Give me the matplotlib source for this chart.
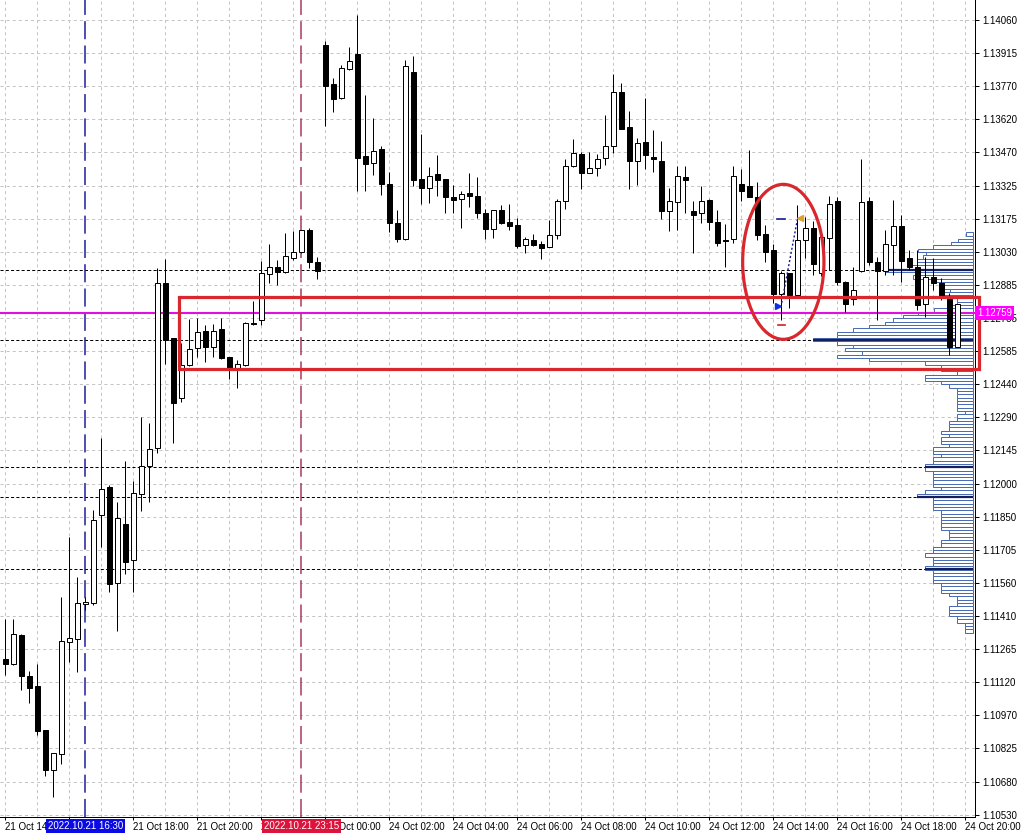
import numpy as np
import matplotlib
matplotlib.use("Agg")
import matplotlib.pyplot as plt
from matplotlib.patches import Rectangle, Ellipse
from matplotlib.transforms import blended_transform_factory, Affine2D

# ---------------- data ----------------
opens = [1.11222, 1.11201, 1.11328, 1.11146, 1.11102, 1.10906, 1.10729, 1.10798, 1.11296, 1.11309,
         1.11465, 1.11469, 1.11860, 1.11986, 1.11558, 1.11821, 1.11661, 1.11953, 1.12078, 1.12160,
         1.12891, 1.12646, 1.12380, 1.12529, 1.12602, 1.12679, 1.12606, 1.12686, 1.12562, 1.12513,
         1.12526, 1.12714, 1.12728, 1.12932, 1.12964, 1.12942, 1.13004, 1.13028, 1.13127, 1.12984,
         1.13949, 1.13775, 1.13712, 1.13843, 1.13909, 1.13456, 1.13424, 1.13487, 1.13332, 1.13157,
         1.13087, 1.13829, 1.13353, 1.13315, 1.13376, 1.13354, 1.13274, 1.13264, 1.13293, 1.13278,
         1.13204, 1.13133, 1.13216, 1.13163, 1.13148, 1.13059, 1.13083, 1.13064, 1.13053, 1.13104,
         1.13257, 1.13410, 1.13465, 1.13382, 1.13401, 1.13446, 1.13502, 1.13740, 1.13585, 1.13435,
         1.13518, 1.13450, 1.13434, 1.13213, 1.13253, 1.13361, 1.13212, 1.13202, 1.13259, 1.13164,
         1.13083, 1.13086, 1.13332, 1.13324, 1.13275, 1.13110, 1.13038, 1.12842, 1.12935, 1.12839,
         1.13083, 1.13135, 1.12936, 1.13093, 1.13256, 1.12898, 1.12820, 1.12945, 1.13256, 1.12984,
         1.12945, 1.13059, 1.13145, 1.13002, 1.12964, 1.12797, 1.12920, 1.12891, 1.12820, 1.12609]
highs = [1.11399, 1.11399, 1.11333, 1.11168, 1.11199, 1.10906, 1.10803, 1.11496, 1.11764, 1.11585,
         1.11497, 1.11884, 1.12202, 1.11995, 1.11918, 1.12101, 1.12014, 1.12295, 1.12269, 1.12957,
         1.12997, 1.12647, 1.12627, 1.12731, 1.12735, 1.12705, 1.12710, 1.12735, 1.12563, 1.12550,
         1.12719, 1.12812, 1.12990, 1.13064, 1.12994, 1.13115, 1.13123, 1.13127, 1.13135, 1.13006,
         1.13967, 1.13801, 1.13860, 1.13942, 1.14082, 1.13727, 1.13624, 1.13502, 1.13384, 1.13216,
         1.13883, 1.13900, 1.13554, 1.13409, 1.13461, 1.13354, 1.13327, 1.13301, 1.13382, 1.13364,
         1.13219, 1.13216, 1.13238, 1.13243, 1.13179, 1.13095, 1.13108, 1.13078, 1.13172, 1.13264,
         1.13441, 1.13532, 1.13475, 1.13473, 1.13465, 1.13638, 1.13820, 1.13782, 1.13656, 1.13537,
         1.13712, 1.13572, 1.13523, 1.13313, 1.13412, 1.13413, 1.13256, 1.13323, 1.13264, 1.13216,
         1.13154, 1.13412, 1.13398, 1.13483, 1.13342, 1.13150, 1.13064, 1.12945, 1.12936, 1.13238,
         1.13186, 1.13167, 1.13101, 1.13278, 1.13273, 1.12900, 1.12963, 1.13443, 1.13275, 1.13009,
         1.13127, 1.13261, 1.13194, 1.13038, 1.13038, 1.13009, 1.13002, 1.12914, 1.12846, 1.12799]
lows = [1.11150, 1.11195, 1.11084, 1.11028, 1.10884, 1.10702, 1.10610, 1.10755, 1.11210, 1.11165,
        1.11439, 1.11462, 1.11719, 1.11519, 1.11347, 1.11598, 1.11521, 1.11880, 1.11920, 1.12138,
        1.12531, 1.12180, 1.12365, 1.12523, 1.12565, 1.12542, 1.12565, 1.12553, 1.12464, 1.12424,
        1.12524, 1.12704, 1.12705, 1.12891, 1.12883, 1.12938, 1.12994, 1.13025, 1.12957, 1.12908,
        1.13589, 1.13653, 1.13709, 1.13838, 1.13302, 1.13301, 1.13372, 1.13283, 1.13120, 1.13073,
        1.13085, 1.13324, 1.13242, 1.13246, 1.13278, 1.13202, 1.13202, 1.13138, 1.13228, 1.13182,
        1.13089, 1.13093, 1.13154, 1.13127, 1.13046, 1.13024, 1.13058, 1.12997, 1.13052, 1.13086,
        1.13221, 1.13409, 1.13309, 1.13379, 1.13369, 1.13416, 1.13471, 1.13575, 1.13311, 1.13327,
        1.13397, 1.13385, 1.13176, 1.13124, 1.13127, 1.13202, 1.13024, 1.13157, 1.13127, 1.13058,
        1.12964, 1.13068, 1.13256, 1.13274, 1.13083, 1.12987, 1.12802, 1.12728, 1.12780, 1.12837,
        1.13002, 1.12927, 1.12923, 1.12950, 1.12883, 1.12764, 1.12794, 1.12943, 1.12972, 1.12728,
        1.12927, 1.12927, 1.12898, 1.12950, 1.12772, 1.12742, 1.12861, 1.12816, 1.12572, 1.12607]
closes = [1.11199, 1.11331, 1.11147, 1.11094, 1.10903, 1.10729, 1.10803, 1.11302, 1.11314, 1.11469,
          1.11473, 1.11839, 1.11975, 1.11553, 1.11848, 1.11654, 1.11958, 1.12078, 1.12153, 1.12891,
          1.12639, 1.12358, 1.12526, 1.12597, 1.12673, 1.12609, 1.12679, 1.12559, 1.12513, 1.12531,
          1.12713, 1.12712, 1.12935, 1.12964, 1.12942, 1.13012, 1.13028, 1.13127, 1.12984, 1.12944,
          1.13768, 1.13711, 1.13846, 1.13878, 1.13449, 1.13422, 1.13480, 1.13333, 1.13160, 1.13089,
          1.13855, 1.13349, 1.13315, 1.13367, 1.13349, 1.13275, 1.13259, 1.13287, 1.13280, 1.13202,
          1.13130, 1.13215, 1.13160, 1.13145, 1.13058, 1.13086, 1.13062, 1.13049, 1.13104, 1.13255,
          1.13412, 1.13468, 1.13382, 1.13403, 1.13441, 1.13500, 1.13740, 1.13577, 1.13435, 1.13512,
          1.13461, 1.13444, 1.13213, 1.13255, 1.13367, 1.13351, 1.13195, 1.13255, 1.13164, 1.13071,
          1.13077, 1.13367, 1.13302, 1.13275, 1.13105, 1.13031, 1.12842, 1.12935, 1.12839, 1.13083,
          1.13135, 1.12975, 1.13096, 1.13243, 1.12898, 1.12797, 1.12861, 1.13250, 1.12987, 1.12945,
          1.13064, 1.13145, 1.12991, 1.12962, 1.12794, 1.12920, 1.12893, 1.12831, 1.12609, 1.12799]

time_labels = ["21 Oct 14:00", "21 Oct 16:00", "21 Oct 18:00", "21 Oct 20:00", "21 Oct 22:00",
               "24 Oct 00:00", "24 Oct 02:00", "24 Oct 04:00", "24 Oct 06:00", "24 Oct 08:00",
               "24 Oct 10:00", "24 Oct 12:00", "24 Oct 14:00", "24 Oct 16:00", "24 Oct 18:00",
               "24 Oct 20:00"]
price_labels = ["1.10530", "1.10680", "1.10825", "1.10970", "1.11120", "1.11265", "1.11410",
                "1.11560", "1.11705", "1.11850", "1.12000", "1.12145", "1.12290", "1.12440",
                "1.12585", "1.12735", "1.12885", "1.13030", "1.13175", "1.13325", "1.13470",
                "1.13620", "1.13770", "1.13915", "1.14060"]

# volume profile (bins from the top level downwards) and its high-volume nodes
profile_top = 1.13110
profile_step = 0.000147
profile_volume = [7, 0, 15, 22, 40, 55, 47, 50, 56, 48, 64, 88, 56, 60, 40, 32, 32, 23, 32, 22,
                  16, 16, 23, 39, 55, 70, 80, 88, 104, 120, 136, 136, 160, 136, 120, 128, 111, 136, 104, 48,
                  32, 32, 16, 48, 48, 32, 24, 16, 16, 16, 16, 16, 16, 16, 8, 16, 16, 24, 24, 24,
                  32, 24, 32, 32, 24, 40, 40, 32, 40, 40, 48, 48, 40, 40, 40, 40, 40, 32, 48, 56,
                  40, 40, 40, 40, 32, 32, 32, 32, 32, 32, 24, 24, 24, 32, 32, 40, 40, 48, 40, 40,
                  40, 48, 40, 40, 40, 40, 32, 32, 32, 24, 16, 16, 16, 24, 24, 24, 16, 16, 8, 8, 8]
node_prices = [1.12948, 1.12639, 1.12076, 1.11940, 1.11620]
node_volume = [88, 160, 48, 56, 48]

current_price = 1.12759
zone_low, zone_high = 1.12510, 1.12828
zone_start = 21.75
buy_index, sell_index = 10, 37
buy_label, sell_label = "2022.10.21 16:30", "2022.10.21 23:15"

# ---------------- figure ----------------
plt.rcParams['font.family'] = ['Liberation Sans', 'DejaVu Sans']
plt.rcParams['lines.scale_dashes'] = False
W, H = 1021, 839
AX_R, AX_B = 975, 817
PX = 0.72
fig = plt.figure(figsize=(W / 100, H / 100), dpi=100)
ax = fig.add_axes([0, (H - AX_B) / H, AX_R / W, AX_B / H])

n = len(opens)
x = np.arange(n)
o = np.array(opens); h = np.array(highs); l = np.array(lows); c = np.array(closes)

ax.set_xlim(-5.3 / 8, (AX_R - 5.3) / 8)
ax.set_ylim(1.105198, 1.141491)
ax.set_autoscale_on(False)

# grid
ax.set_xticks(np.arange(0, 121, 8))
ax.set_xticklabels(time_labels, ha='left')
ax.set_xticks(np.arange(0, 122, 4), minor=True)
yt = np.linspace(1.10530, 1.14060, len(price_labels))
ax.set_yticks(yt)
ax.set_yticklabels(price_labels)
ax.yaxis.tick_right()
ax.grid(True, which='both', axis='x', color='#c4c4c4', lw=PX, dashes=(2.2, 2.2))
ax.grid(True, which='major', axis='y', color='#c4c4c4', lw=PX, dashes=(2.2, 2.2))
ax.set_axisbelow(True)
ax.tick_params(axis='x', which='major', length=3 * PX, width=PX, pad=1.2, labelsize=7)
ax.tick_params(axis='x', which='minor', length=0)
ax.tick_params(axis='y', which='major', length=4 * PX, width=PX, pad=2.5, labelsize=7)
for s in ['left', 'top']:
    ax.spines[s].set_visible(False)
for s in ['right', 'bottom']:
    ax.spines[s].set_linewidth(PX)

# profile transform: volume units = pixels leftwards from the right edge
prof_x = Affine2D().scale(-1.0 / AX_R, 1).translate(973.0 / AX_R, 0) + ax.transAxes
prof_tr = blended_transform_factory(prof_x, ax.transData)
ytr = ax.get_yaxis_transform()

# level lines from high-volume nodes
for p, v in zip(node_prices, node_volume):
    left_frac = (973.0 - v) / AX_R
    ax.plot([0, left_frac], [p, p], transform=ytr, color='black', lw=PX, dashes=(2.2, 1.6), zorder=1.5)

# vertical time markers
ax.axvline(buy_index, color='#1e1e9a', lw=1.1, dashes=(13, 4.5), zorder=1.6)
ax.axvline(sell_index, color='#a83a5c', lw=1.1, dashes=(13, 4.5), zorder=1.6)

# volume profile
levels = profile_top - profile_step * np.arange(len(profile_volume))
ax.barh(levels, profile_volume, height=profile_step, left=0, transform=prof_tr,
        facecolor='white', edgecolor='#4a6cb4', linewidth=PX, zorder=2)
for p, v in zip(node_prices, node_volume):
    ax.plot([v, 0], [p, p], transform=prof_tr, color='#14205e', lw=1.6, zorder=2.2,
            solid_capstyle='butt')

# current price line
ax.axhline(current_price, color='#e010e0', lw=1.5, zorder=2.5)

# candles
ax.vlines(x, l, h, color='black', lw=PX, zorder=3)
up = c >= o
ax.bar(x, np.abs(c - o), width=0.55, bottom=np.minimum(o, c),
       color=np.where(up, 'white', 'black'), edgecolor='black', linewidth=PX, zorder=4)

# trade markers inside the ellipse
ax.plot([97.05, 99.0], [1.12803, 1.13172], color='#1a1a90', lw=1.0, dashes=(1.5, 1.5), zorder=5)
ax.plot([96.6], [1.12791], marker='>', color='#1030e0', ms=5, zorder=5)
ax.plot([99.35], [1.13181], marker='<', color='#e0a030', ms=5, zorder=5)
ax.plot([96.5, 97.5], [1.13175, 1.13175], color='#1a1a90', lw=1.2, zorder=5)
ax.plot([96.6, 97.5], [1.12705, 1.12705], color='#d02020', lw=1.2, zorder=5)

# zone rectangle and ellipse
red = '#d8282e'
ax.add_patch(Rectangle((zone_start, zone_low), 121.7 - zone_start, zone_high - zone_low,
                       fill=False, ec=red, lw=2.3, clip_on=False, zorder=6))
ax.add_patch(Ellipse((97.25, 1.12986), 10.16, 0.006885, fill=False, ec=red, lw=2.3, zorder=6))

# labels on axes
ax.text(1.0025, current_price, f"{current_price:.5f}", transform=ytr, ha='left', va='center',
        fontsize=7, color='white', zorder=10, clip_on=False,
        bbox=dict(boxstyle='square,pad=0.2', fc='#ff00ff', ec='none'))
xtr = blended_transform_factory(ax.transData, ax.transAxes)
ax.text(buy_index, -0.011, buy_label, transform=xtr, ha='center', va='center', fontsize=7,
        color='white', zorder=10, clip_on=False,
        bbox=dict(boxstyle='square,pad=0.2', fc='#0a0ae6', ec='none'))
ax.text(sell_index, -0.011, sell_label, transform=xtr, ha='center', va='center', fontsize=7,
        color='white', zorder=10, clip_on=False,
        bbox=dict(boxstyle='square,pad=0.2', fc='#dc143c', ec='none'))

fig.savefig("out.png", dpi=100, facecolor='white')
